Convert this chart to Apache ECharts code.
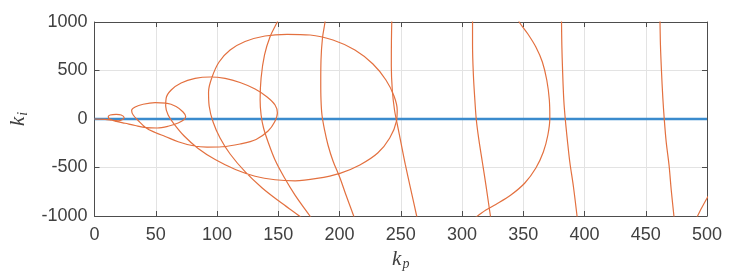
<!DOCTYPE html>
<html>
<head>
<meta charset="utf-8">
<script src="https://cdn.jsdelivr.net/npm/echarts/dist/echarts.min.js"></script>
<style>
  html, body { margin: 0; padding: 0; background: #fff; }
  #chart { width: 736px; height: 280px; }
</style>
</head>
<body>
<div id="chart"></div>
<script>
// axis ranges / ticks
const kpRange = [0, 500]
const kiRange = [-1000, 1000]
const kpStep = 50
const kiStep = 500

// ki = 0 line (blue)
const zeroLine = [[0, 0], [500, 0]]

// main spiral: origin -> small loop -> loops growing to the right -> tail out of the bottom
const spiral = [
  [0, 0], [8.7, -3], [14.4, -13], [19.3, -19], [22.6, -8], [24.2, 15], [21.8, 41], [17.7, 48],
  [12.8, 41], [11.2, 23], [12.8, -3], [17.7, -24], [25.0, -44], [33.2, -67], [42.2, -88],
  [51.1, -93], [60.1, -75], [68.3, -41], [73.2, -5], [74.4, 26], [72.3, 72], [66.6, 129],
  [58.5, 163], [49.5, 168], [39.7, 152], [33.2, 124], [30.3, 88], [31.6, 41], [35.6, -15],
  [42.2, -93], [49.5, -139], [57.7, -180], [68.3, -234], [79.7, -273], [91.9, -289],
  [104.2, -286], [118.8, -258], [131.9, -211], [141.7, -124], [147.0, -31], [149.3, 62],
  [147.4, 144], [140.9, 227], [131.1, 309], [118.8, 376], [106.6, 418], [94.4, 433],
  [82.1, 418], [70.7, 371], [62.6, 299], [58.5, 216], [58.1, 134], [60.1, 41], [65.0, -52],
  [73.2, -175], [84.6, -304], [98.5, -418], [115.0, -521], [131.1, -590], [147.4, -626],
  [163.7, -637], [181.6, -613], [200.4, -560], [216.6, -474], [231.2, -351], [241.0, -196],
  [246.5, -21], [247.1, 93], [244.5, 237], [237.9, 402], [227.3, 567], [212.6, 711],
  [194.7, 814], [176.0, 866], [157.2, 873], [139.2, 856], [122.9, 799], [110.7, 711],
  [101.7, 588], [96.0, 433], [93.1, 278], [93.6, 134], [96.8, -31], [102.5, -196],
  [110.7, -361], [123.1, -546], [136.9, -711], [151.6, -856], [167.8, -1005], [170.5, -1040]
]

// branches that enter and leave through the plot edges
const arc150 = [
  [150.2, 1030], [149.3, 1003], [143.3, 848], [138.8, 660], [136.0, 423], [135.2, 196],
  [136.0, 41], [138.0, -93], [141.7, -237], [147.4, -423], [154.7, -598], [163.7, -784],
  [175.9, -1000], [177.6, -1031]
]
const arc190 = [
  [188.3, 1031], [188.2, 1003], [186.1, 835], [184.9, 608], [184.7, 381], [184.9, 196],
  [185.7, 41], [187.8, -113], [190.6, -268], [194.7, -433], [200.4, -608], [205.3, -784],
  [211.3, -990], [212.2, -1031]
]
const arc250 = [
  [242.7, 1031], [242.4, 814], [242.3, 546], [243.1, 299], [244.9, 93], [247.3, -62],
  [250.2, -247], [253.8, -474], [257.9, -711], [263.0, -1000], [263.6, -1041]
]
const arc310 = [
  [308.6, 1041], [308.6, 763], [309.3, 454], [310.5, 196], [311.7, -10], [313.8, -216],
  [316.6, -443], [319.5, -680], [323.2, -1000], [323.7, -1041]
]
const arc370 = [
  [345.2, 1041], [347.2, 990], [353.8, 876], [360.3, 742], [365.6, 588], [369.2, 402],
  [371.3, 196], [371.7, 10], [370.1, -165], [366.4, -340], [360.3, -505], [351.3, -660],
  [339.9, -784], [327.6, -881], [319.5, -938], [312.7, -1000], [308.1, -1036]
]
const arc385 = [
  [381.2, 1041], [381.5, 763], [382.1, 505], [383.1, 196], [384.3, 0], [386.0, -216],
  [388.0, -443], [391.0, -701], [393.9, -1000], [394.2, -1041]
]
const arc465 = [
  [461.6, 1041], [462.0, 763], [462.8, 505], [463.9, 227], [465.1, 0], [466.7, -237],
  [469.0, -474], [470.8, -732], [473.0, -1000], [473.3, -1041]
]
const arcCorner = [
  [489.9, -1052], [492.3, -1000], [495.6, -918], [500.1, -814], [502.2, -773]
]

const branches = [spiral, arc150, arc190, arc250, arc310, arc370, arc385, arc465, arcCorner]

const axisColor = '#4d4d4d'
const labelStyle = {
  fontSize: 18,
  color: '#404040',
  fontFamily: 'Liberation Sans, Arial, sans-serif',
  formatter: function (v) { return String(v) } // no thousands separator
}
const nameRich = {
  k: { fontFamily: 'Liberation Serif, serif', fontStyle: 'italic', fontSize: 21, color: '#404040' },
  s: { fontFamily: 'Liberation Serif, serif', fontStyle: 'italic', fontSize: 14, color: '#404040', padding: [10, 0, 0, 1] }
}

function frameAxis (pos, min, max, step) {
  // top / right edge of the box, ticks only
  return {
    type: 'value',
    position: pos,
    min: min,
    max: max,
    interval: step,
    axisLine: { show: true, onZero: false, lineStyle: { color: axisColor, width: 1 } },
    axisTick: { show: true, inside: true, length: 5, lineStyle: { color: axisColor } },
    axisLabel: { show: false },
    splitLine: { show: false }
  }
}

const option = {
  animation: false,
  backgroundColor: '#fff',
  grid: { left: 94, right: 29, top: 22, bottom: 64 },
  xAxis: [
    {
      type: 'value',
      position: 'bottom',
      min: kpRange[0],
      max: kpRange[1],
      interval: kpStep,
      name: '{k|k}{s|p}',
      nameLocation: 'middle',
      nameGap: 30,
      nameTextStyle: { rich: nameRich },
      axisLine: { show: true, onZero: false, lineStyle: { color: axisColor, width: 1 } },
      axisTick: { show: true, inside: true, length: 5, lineStyle: { color: axisColor } },
      axisLabel: Object.assign({ margin: 10 }, labelStyle),
      splitLine: { show: true, lineStyle: { color: '#e3e3e3', width: 1 } }
    },
    frameAxis('top', kpRange[0], kpRange[1], kpStep)
  ],
  yAxis: [
    {
      type: 'value',
      position: 'left',
      min: kiRange[0],
      max: kiRange[1],
      interval: kiStep,
      name: '{k|k}{s|i}',
      nameLocation: 'middle',
      nameRotate: 90,
      nameGap: 64,
      nameTextStyle: { rich: nameRich },
      axisLine: { show: true, onZero: false, lineStyle: { color: axisColor, width: 1 } },
      axisTick: { show: true, inside: true, length: 5, lineStyle: { color: axisColor } },
      axisLabel: Object.assign({ margin: 7 }, labelStyle),
      splitLine: { show: true, lineStyle: { color: '#e3e3e3', width: 1 } }
    },
    frameAxis('right', kiRange[0], kiRange[1], kiStep)
  ],
  series: [
    {
      type: 'line',
      data: zeroLine,
      showSymbol: false,
      lineStyle: { color: '#3a8bcd', width: 2.5 },
      z: 2
    }
  ].concat(branches.map(function (pts) {
    return {
      type: 'line',
      data: pts,
      showSymbol: false,
      smooth: 0.35,
      clip: true,
      lineStyle: { color: '#e3703f', width: 1.2 },
      z: 3
    }
  }))
}

const chart = echarts.init(document.getElementById('chart'))
chart.setOption(option)
window.addEventListener('resize', function () { chart.resize() })
</script>
</body>
</html>
